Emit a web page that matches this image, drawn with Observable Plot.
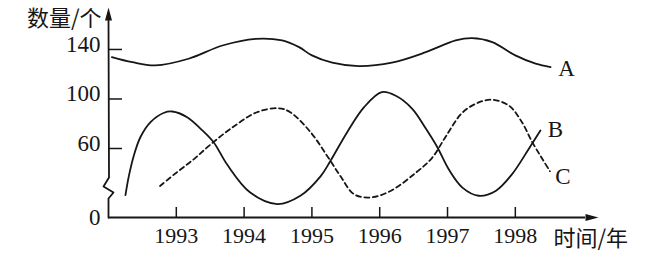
<!DOCTYPE html>
<html><head><meta charset="utf-8">
<script src="https://cdn.jsdelivr.net/npm/d3@7"></script>
<script src="https://cdn.jsdelivr.net/npm/@observablehq/plot@0.6"></script>
<style>body{margin:0;background:#fff} svg{display:block}</style>
</head><body><div id="chart"></div>
<script>
// Series A (solid, top)
const aYears  = [1992.05, 1992.35, 1992.69, 1993.18, 1993.68, 1994.17, 1994.56, 1994.81, 1995.00, 1995.30, 1995.69, 1996.18, 1996.68, 1997.12, 1997.36, 1997.66, 1998.00, 1998.30, 1998.52];
const aValues = [133.8, 129.7, 127.1, 132.5, 143.2, 148.6, 147.3, 141.9, 135.2, 129.3, 126.5, 129.3, 137.8, 147.3, 149.2, 146.0, 135.2, 128.5, 125.7];
// Series B (solid, oscillating)
const bYears  = [1992.25, 1992.30, 1992.37, 1992.47, 1992.62, 1992.82, 1992.94, 1993.16, 1993.36, 1993.55, 1993.75, 1994.09, 1994.49, 1994.83, 1995.13, 1995.27, 1995.52, 1995.77, 1996.03, 1996.23, 1996.48, 1996.68, 1996.85, 1997.02, 1997.22, 1997.46, 1997.71, 1997.95, 1998.20, 1998.37];
const bValues = [19.5, 36.0, 53.1, 69.1, 81.3, 88.9, 89.9, 85.3, 75.9, 65.1, 46.0, 21.7, 11.7, 18.9, 36.0, 48.9, 73.2, 93.4, 105.5, 102.8, 92.1, 76.1, 61.0, 41.7, 26.0, 18.9, 23.1, 37.5, 59.8, 74.5];
// Series C (dashed)
const cYears  = [1992.76, 1993.01, 1993.26, 1993.50, 1993.80, 1994.19, 1994.51, 1994.68, 1994.98, 1995.23, 1995.42, 1995.62, 1995.86, 1996.16, 1996.53, 1996.77, 1996.97, 1997.22, 1997.46, 1997.66, 1997.91, 1998.10, 1998.25, 1998.39, 1998.51];
const cValues = [27.4, 39.4, 50.8, 63.0, 75.9, 89.3, 92.5, 89.3, 73.2, 53.1, 36.0, 20.3, 17.4, 23.1, 38.8, 51.7, 69.3, 89.0, 97.2, 99.4, 94.5, 81.0, 65.1, 51.7, 40.3];

const seriesNames = ["A", "B", "C"];
const xTicks = [1993, 1994, 1995, 1996, 1997, 1998];
const yTickLabels = [0, 60, 100, 140];
const yTickMarks = [60, 100, 140];
const yLabel = "数量/个";
const xLabel = "时间/年";

const toRows = (ys, vs, s) => ys.map((x, i) => ({x, y: vs[i], s}));
const A = toRows(aYears, aValues, "A");
const B = toRows(bYears, bValues, "B");
const C = toRows(cYears, cValues, "C");

// geometry
const W = 646, H = 253, mL = 108, mR = 61, mT = 20, mB = 36;
const xDomain = [1992, 1999.035];
const pxPerYear = (W - mL - mR) / (xDomain[1] - xDomain[0]);
// broken y axis: the 0–60 segment is compressed
const breakAt = 60;
const lowFactor = 0.929;
const yTransform = v => v >= breakAt ? v - breakAt * (1 - lowFactor) : v * lowFactor;
const yTopRaw = 163.4;
const yDomainT = [0, yTransform(yTopRaw)];
const pxPerUnitT = (H - mB - mT) / yDomainT[1];
const x0 = xDomain[0];
const dxd = px => px / pxPerYear;
const dyLow = px => px / (pxPerUnitT * lowFactor);

const ink = "#161616";
const serif = "'Liberation Serif', 'Times New Roman', serif";
const cjk = "'Noto Sans CJK SC', sans-serif";
const sw = 1.8;

const arrowHead = {draw(ctx) { ctx.moveTo(0, -13); ctx.lineTo(3.5, 0); ctx.lineTo(-3.5, 0); ctx.closePath(); }};

// y axis with break
const yAxisPath = [
  {x: x0, y: 0}, {x: x0, y: dyLow(19)}, {x: x0 + dxd(5), y: dyLow(25)},
  {x: x0 - dxd(5), y: dyLow(31)}, {x: x0 + dxd(0.5), y: dyLow(40)}, {x: x0, y: yTopRaw}
];

const ends = [
  {x: aYears.at(-1), y: aValues.at(-1), s: seriesNames[0], dx: 16, dy: 1},
  {x: bYears.at(-1), y: bValues.at(-1), s: seriesNames[1], dx: 15, dy: -1},
  {x: cYears.at(-1), y: cValues.at(-1), s: seriesNames[2], dx: 13, dy: 5}
];

const chart = Plot.plot({
  width: W, height: H,
  marginLeft: mL, marginRight: mR, marginTop: mT, marginBottom: mB,
  x: {domain: xDomain},
  y: {domain: yDomainT, transform: yTransform},
  style: {background: "white", color: ink, fontFamily: serif},
  marks: [
    // axes lines
    Plot.line(yAxisPath, {x: "x", y: "y", stroke: ink, strokeWidth: sw, curve: "linear"}),
    Plot.ruleY([0], {x1: x0, x2: xDomain[1], stroke: ink, strokeWidth: sw}),
    Plot.dot([{x: x0, y: yTopRaw}], {x: "x", y: "y", symbol: arrowHead, fill: ink, stroke: "none"}),
    Plot.dot([{x: xDomain[1], y: 0}], {x: "x", y: "y", symbol: arrowHead, fill: ink, stroke: "none", rotate: 90}),
    // tick marks (inward)
    Plot.ruleY(yTickMarks, {y: d => d, x1: x0, x2: x0 + dxd(14), stroke: ink, strokeWidth: 1.5}),
    Plot.ruleX(xTicks, {x: d => d, y1: 0, y2: dyLow(10), stroke: ink, strokeWidth: 1.5}),
    // tick labels
    Plot.axisY({ticks: yTickLabels, tickSize: 0, tickPadding: 8, fontSize: 23, fontFamily: serif, label: null, tickFormat: d => String(d)}),
    Plot.axisX({ticks: xTicks, tickSize: 0, tickPadding: 10, fontSize: 22, fontFamily: serif, label: null, tickFormat: d => String(d)}),
    // axis titles
    Plot.text([yLabel], {text: d => d, frameAnchor: "top-left", lineAnchor: "middle", dx: -7, dy: -2, textAnchor: "end", fontSize: 22, fontFamily: cjk, fill: ink}),
    Plot.text([xLabel], {text: d => d, frameAnchor: "bottom-right", lineAnchor: "middle", dx: -32, dy: 21, textAnchor: "start", fontSize: 22, fontFamily: cjk, fill: ink}),
    // series
    Plot.line(A, {x: "x", y: "y", curve: "catmull-rom", stroke: ink, strokeWidth: sw}),
    Plot.line(B, {x: "x", y: "y", curve: "catmull-rom", stroke: ink, strokeWidth: sw}),
    Plot.line(C, {x: "x", y: "y", curve: "catmull-rom", stroke: ink, strokeWidth: sw, strokeDasharray: "5,3.5"}),
    // series labels
    ...ends.map(e => Plot.text([e], {x: "x", y: "y", text: "s", dx: e.dx, dy: e.dy, fontSize: 23, fontFamily: serif, fill: ink}))
  ]
});
document.getElementById("chart").appendChild(chart);
</script>
</body></html>
